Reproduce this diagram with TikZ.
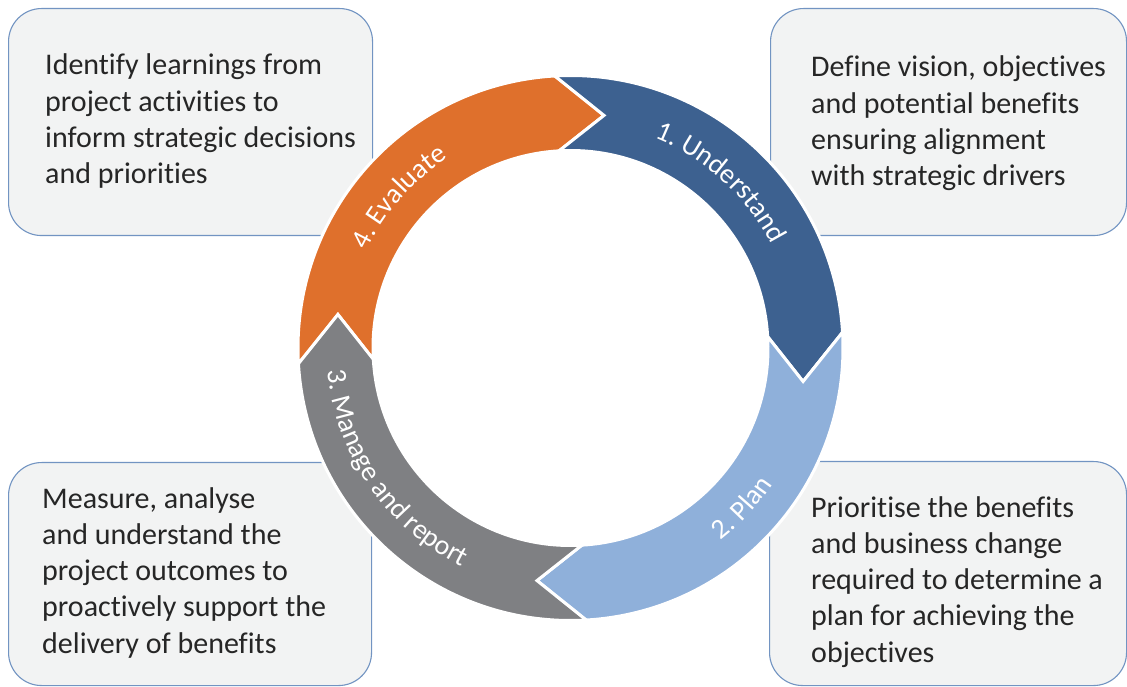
\documentclass[tikz,border=0pt]{standalone}
\usepackage{fontspec}
\setmainfont{Carlito}[Ligatures={NoCommon}]
\usetikzlibrary{decorations.text}

\definecolor{evalorange}{HTML}{DF702C}
\definecolor{understandblue}{HTML}{3D6190}
\definecolor{planblue}{HTML}{8FB0DA}
\definecolor{managegray}{HTML}{7F8083}
\definecolor{boxfill}{HTML}{F2F3F3}
\definecolor{boxline}{HTML}{7294C2}
\definecolor{bodytext}{HTML}{262626}

\newcommand{\ringfont}{\fontsize{28}{32}\selectfont\color{white}}

% one arrow of the cycle: fill colour, tail angle (runs 90 degrees clockwise)
\newcommand{\ringsegment}[2]{%
  \pgfmathsetmacro{\headangle}{#2-90}%
  \pgfmathsetmacro{\tipangle}{#2-90-11.5}%
  \pgfmathsetmacro{\notchangle}{#2-11.5}%
  \filldraw[segment, fill=#1] (#2:272.5)
    arc[start angle=#2, end angle=\headangle, radius=272.5]
    -- (\tipangle:235) -- (\headangle:197.5)
    arc[start angle=\headangle, end angle=#2, radius=197.5]
    -- (\notchangle:235) -- cycle;
}

% label running clockwise (letters pointing outwards): centre angle, radius, text
\newcommand{\labelcw}[3]{%
  \pgfmathsetmacro{\labfrom}{#1+50}%
  \pgfmathsetmacro{\labto}{#1-50}%
  \path[decorate, decoration={text along path, text align=center, text={|\ringfont|#3}}]
    (\labfrom:#2) arc[start angle=\labfrom, end angle=\labto, radius=#2];
}
% label running anticlockwise (letters pointing inwards)
\newcommand{\labelccw}[3]{%
  \pgfmathsetmacro{\labfrom}{#1-50}%
  \pgfmathsetmacro{\labto}{#1+50}%
  \path[decorate, decoration={text along path, text align=center, text={|\ringfont|#3}}]
    (\labfrom:#2) arc[start angle=\labfrom, end angle=\labto, radius=#2];
}

\begin{document}
\begin{tikzpicture}[x=1pt, y=1pt,
  infobox/.style={draw=boxline, line width=1.1pt, fill=boxfill, rounded corners=33pt,
    anchor=north west, inner sep=0pt},
  infotext/.style={font=\fontsize{30}{36.3}\selectfont, text=bodytext, align=left,
    anchor=base west, inner sep=0pt},
  segment/.style={draw=white, line width=3pt, line join=miter}]

\useasboundingbox (0,0) rectangle (1127,686);
\fill[white] (0,0) rectangle (1127,686);

% description boxes
\node[infobox, minimum width=364pt, minimum height=227pt] (tlbox) at (8,678) {};
\node[infobox, minimum width=356pt, minimum height=227pt] (trbox) at (770,678) {};
\node[infobox, minimum width=363pt, minimum height=223pt] (blbox) at (8,224) {};
\node[infobox, minimum width=357pt, minimum height=224pt] (brbox) at (769,225) {};

% the anchor is the baseline of each text's last line
\node[infotext] (tltext) at (45,502.1) {Identify learnings from\\project activities to\\inform strategic decisions\\and priorities};
\node[infotext] (trtext) at (811,500.1) {Define vision, objectives\\and potential benefits\\ensuring alignment\\with strategic drivers};
\node[infotext] (bltext) at (42,32.8) {Measure, analyse\\and understand the\\project outcomes to\\proactively support the\\delivery of benefits};
\node[infotext] (brtext) at (811,23.8) {Prioritise the benefits\\and business change\\required to determine a\\plan for achieving the\\objectives};

% the cycle
\begin{scope}[shift={(570.5,338)}]
  \ringsegment{evalorange}{183.3}
  \ringsegment{understandblue}{93.3}
  \ringsegment{planblue}{3.3}
  \ringsegment{managegray}{-86.7}

  \labelcw{138.6}{226}{4. Evaluate}
  \labelcw{47.8}{226}{1. Understand}
  \labelccw{-43}{244}{2. Plan}
  \labelccw{214.5}{244}{3. Manage and report}
\end{scope}
\end{tikzpicture}
\end{document}
